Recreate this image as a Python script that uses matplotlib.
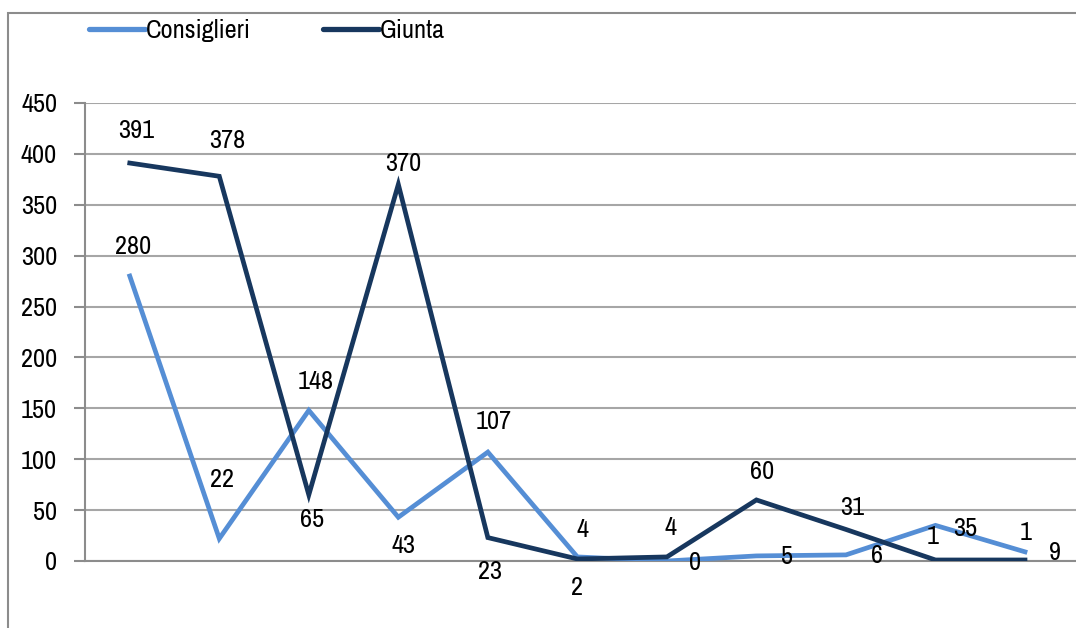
import matplotlib
matplotlib.use("Agg")
import matplotlib.pyplot as plt
from matplotlib.patches import Rectangle
from matplotlib.lines import Line2D

plt.rcParams['font.family'] = ['Archivo Narrow', 'Liberation Sans', 'DejaVu Sans']

# Data
series_names = ["Consiglieri", "Giunta"]
consiglieri = [280, 22, 148, 43, 107, 4, 0, 5, 6, 35, 9]
giunta = [391, 378, 65, 370, 23, 2, 4, 60, 31, 1, 1]
y_ticks = [0, 50, 100, 150, 200, 250, 300, 350, 400, 450]

# Label offsets (pixels) for each data label
cons_offsets = [(3, 30), (3, 59), (7, 29), (5, -28), (6, 31), (5, 27),
                (28, -1), (31, -1), (31, -1), (30, -3), (30, -1)]
giunta_offsets = [(6, 33), (8, 36), (3, -25), (5, 21), (2, -34), (0, -29),
                  (4, 29), (6, 28), (6, 22), (-3, 23), (1, 27)]

W, H = 1076, 628
fig = plt.figure(figsize=(W / 100, H / 100), dpi=100)

# Outer chart frame
fig.patches.append(Rectangle((8 / W, -0.1), 1.2, 1 - 13 / H + 0.1, transform=fig.transFigure,
                             fill=False, edgecolor='#8C8C8C', linewidth=1.5, zorder=0))

left, right, top, bottom = 85, 1076, 103, 561
ax = fig.add_axes([left / W, 1 - bottom / H, (right - left) / W, (bottom - top) / H])

c_light = '#558ED5'
c_dark = '#17375E'
x = list(range(len(consiglieri)))

ax.plot(x, consiglieri, color=c_light, linewidth=3.4, solid_joinstyle='miter', zorder=3)
ax.plot(x, giunta, color=c_dark, linewidth=3.4, solid_joinstyle='miter', zorder=4)

fs = 19
for xi, v, (dx, dy) in zip(x, consiglieri, cons_offsets):
    ax.annotate(str(v), (xi, v), xytext=(dx, dy), textcoords='offset pixels',
                ha='center', va='center', fontsize=fs, color='black', zorder=5)
for xi, v, (dx, dy) in zip(x, giunta, giunta_offsets):
    ax.annotate(str(v), (xi, v), xytext=(dx, dy), textcoords='offset pixels',
                ha='center', va='center', fontsize=fs, color='black', zorder=5)

ax.set_xlim(-0.5, (right - 130) / 89.5)
ax.set_ylim(0, 450)
ax.set_yticks(y_ticks)
ax.set_yticklabels([str(t) for t in y_ticks], fontsize=fs)
ax.set_xticks([])
ax.yaxis.grid(True, color='#A6A6A6', linewidth=1.5)
ax.set_axisbelow(True)
ax.tick_params(axis='y', length=8, width=1.5, color='#8C8C8C', pad=12)
for s in ['top', 'right']:
    ax.spines[s].set_visible(False)
ax.spines['left'].set_color('#8C8C8C')
ax.spines['left'].set_linewidth(1.5)
ax.spines['bottom'].set_color('#8C8C8C')
ax.spines['bottom'].set_linewidth(1.5)
ax.patch.set_alpha(0)

# Legend drawn at the top of the chart
handles = [Line2D([], [], color=c_light, linewidth=3.8, solid_capstyle='round'),
           Line2D([], [], color=c_dark, linewidth=3.8, solid_capstyle='round')]
fig.legend(handles, series_names, loc='upper left', bbox_to_anchor=(84 / W, 1 - 14 / H),
           ncol=2, frameon=False, fontsize=fs, handlelength=2.1, handletextpad=0.05,
           columnspacing=2.75, borderaxespad=0, borderpad=0.2)

fig.savefig("out.png", dpi=100)
